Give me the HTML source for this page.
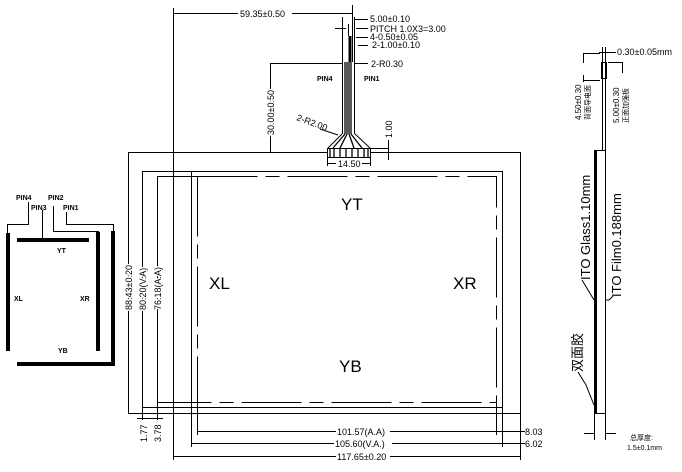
<!DOCTYPE html>
<html><head><meta charset="utf-8"><style>
html,body{margin:0;padding:0;background:#fff;}
svg{display:block;}
text{font-family:"Liberation Sans","Noto Sans CJK SC",sans-serif;fill:#000;}
.d{font-size:9px;}
.h{stroke:#fff;stroke-width:3px;paint-order:stroke;}
.b{font-size:7px;font-weight:bold;}
.L{font-size:17px;}
</style></head><body>
<svg width="682" height="472" viewBox="0 0 682 472" xmlns="http://www.w3.org/2000/svg">
<g stroke="#000" stroke-width="1" fill="none">
<!-- main panel -->
<rect x="128.5" y="152.5" width="392" height="261"/>
<rect x="191.5" y="171.5" width="311" height="236"/>
<rect x="197.5" y="176.5" width="299" height="226" stroke-dasharray="60,8,14,8"/>
<line x1="142.5" y1="171.5" x2="191" y2="171.5"/>
<line x1="157.5" y1="176.5" x2="197" y2="176.5"/>
<line x1="142.5" y1="407.5" x2="191" y2="407.5"/>
<line x1="157.5" y1="402.5" x2="197" y2="402.5"/>
<line x1="142.5" y1="171" x2="142.5" y2="420"/>
<line x1="157.5" y1="176" x2="157.5" y2="420"/>
<line x1="137" y1="418.5" x2="163" y2="418.5"/>
<!-- bottom dims -->
<line x1="173.5" y1="8" x2="173.5" y2="460"/>
<line x1="191.5" y1="407" x2="191.5" y2="447"/>
<line x1="197.5" y1="402" x2="197.5" y2="435"/>
<line x1="496.5" y1="402" x2="496.5" y2="435"/>
<line x1="502.5" y1="407" x2="502.5" y2="447"/>
<line x1="520.5" y1="413" x2="520.5" y2="460"/>
<line x1="197" y1="431.5" x2="336" y2="431.5"/><line x1="390" y1="431.5" x2="496" y2="431.5"/>
<line x1="191" y1="443.5" x2="334" y2="443.5"/><line x1="392" y1="443.5" x2="502" y2="443.5"/>
<line x1="173" y1="456.5" x2="336" y2="456.5"/><line x1="390" y1="456.5" x2="520" y2="456.5"/>
<line x1="496" y1="431.5" x2="525" y2="431.5"/>
<line x1="502" y1="443.5" x2="525" y2="443.5"/>
<!-- top dims -->
<line x1="173" y1="13.5" x2="238" y2="13.5"/><line x1="292" y1="13.5" x2="352" y2="13.5"/>
<line x1="352.5" y1="5" x2="352.5" y2="62"/>
<line x1="342.5" y1="17" x2="342.5" y2="62"/>
<line x1="354.5" y1="17" x2="354.5" y2="62"/>
<line x1="354" y1="19.5" x2="368" y2="19.5"/>
<line x1="335" y1="28.5" x2="346" y2="28.5"/><line x1="356" y1="28.5" x2="368" y2="28.5"/>
<line x1="348.5" y1="24" x2="348.5" y2="36"/>
<line x1="356" y1="37.5" x2="368" y2="37.5"/>
<line x1="358" y1="45.5" x2="368" y2="45.5"/>
<line x1="270.5" y1="63.5" x2="342" y2="63.5"/>
<line x1="270.5" y1="63" x2="270.5" y2="152"/>
<line x1="354" y1="63.5" x2="368" y2="63.5"/>
<line x1="370" y1="148.5" x2="388" y2="148.5"/>
<line x1="388.5" y1="140" x2="388.5" y2="160"/>
<line x1="327.5" y1="157" x2="327.5" y2="166"/><line x1="370.5" y1="157" x2="370.5" y2="166"/>
<line x1="327" y1="163.5" x2="336" y2="163.5"/><line x1="362" y1="163.5" x2="370" y2="163.5"/>
<line x1="320" y1="129" x2="338" y2="135"/>
<!-- cable -->
<line x1="342.5" y1="62" x2="342.5" y2="134"/>
<line x1="354.5" y1="62" x2="354.5" y2="134"/>
<line x1="342" y1="134" x2="328" y2="148"/>
<line x1="355" y1="134" x2="370" y2="148"/>
<rect x="327.5" y="148.5" width="43" height="9" fill="#fff"/>
</g>
<g stroke="#000" stroke-width="1.3">
<line x1="345" y1="62" x2="345" y2="134"/><line x1="347" y1="62" x2="347" y2="134"/>
<line x1="349" y1="62" x2="349" y2="134"/><line x1="351" y1="62" x2="351" y2="134"/>
<line x1="345" y1="134" x2="333" y2="148"/><line x1="347" y1="134" x2="340" y2="148"/>
<line x1="349" y1="134" x2="354" y2="148"/><line x1="351" y1="134" x2="362" y2="148"/>
<line x1="330" y1="149" x2="330" y2="157"/><line x1="334" y1="149" x2="334" y2="157"/>
<line x1="340" y1="149" x2="340" y2="157"/><line x1="346" y1="149" x2="346" y2="157"/>
<line x1="352" y1="149" x2="352" y2="157"/><line x1="358" y1="149" x2="358" y2="157"/>
<line x1="364" y1="149" x2="364" y2="157"/><line x1="368" y1="149" x2="368" y2="157"/>
</g>
<rect x="348.5" y="36" width="3" height="26" fill="#000"/>
<!-- texts main -->
<text class="d" x="240" y="17">59.35±0.50</text>
<text class="d" x="370" y="22">5.00±0.10</text>
<text class="d" x="370" y="32">PITCH 1.0X3=3.00</text>
<text class="d" x="370" y="40">4-0.50±0.05</text>
<text class="d" x="372" y="48">2-1.00±0.10</text>
<text class="d" x="371" y="67">2-R0.30</text>
<text class="b" x="317" y="81">PIN4</text>
<text class="b" x="364" y="81">PIN1</text>
<text class="d" transform="translate(296,120) rotate(20)">2-R2.00</text>
<text class="d h" transform="translate(274,135) rotate(-90)">30.00±0.50</text>
<text class="d h" transform="translate(392,138) rotate(-90)">1.00</text>
<text class="d" x="338" y="167">14.50</text>
<text class="L" x="341" y="210">YT</text>
<text class="L" x="209" y="289">XL</text>
<text class="L" x="453" y="289">XR</text>
<text class="L" x="339" y="372">YB</text>
<text class="d h" transform="translate(132,310) rotate(-90)">88.43±0.20</text>
<text class="d h" transform="translate(146,310) rotate(-90)">80.20(V.A)</text>
<text class="d h" transform="translate(161,310) rotate(-90)">76.18(A.A)</text>
<text class="d" transform="translate(147,442) rotate(-90)">1.77</text>
<text class="d" transform="translate(161,442) rotate(-90)">3.78</text>
<text class="d" x="337" y="435">101.57(A.A)</text>
<text class="d" x="335" y="447">105.60(V.A.)</text>
<text class="d" x="337" y="460">117.65±0.20</text>
<text class="d" x="525" y="435">8.03</text>
<text class="d" x="525" y="447">6.02</text>
<!-- left schematic -->
<g stroke="#000" stroke-width="1" fill="none">
<polyline points="28.5,202 28.5,224.5 7.5,224.5 7.5,233"/>
<line x1="42.5" y1="210" x2="42.5" y2="240"/>
<polyline points="53.5,206 53.5,231.5 98.5,231.5 98.5,234"/>
<polyline points="66.5,212 66.5,224.5 113.5,224.5 113.5,232"/>
</g>
<g fill="#000">
<rect x="6" y="233" width="4" height="118"/>
<rect x="17" y="238" width="72" height="4"/>
<rect x="96" y="232" width="4" height="119"/>
<rect x="111" y="231" width="4" height="135"/>
<rect x="17" y="362" width="98" height="4"/>
</g>
<text class="b" x="16" y="200">PIN4</text>
<text class="b" x="48" y="200">PIN2</text>
<text class="b" x="31" y="210">PIN3</text>
<text class="b" x="63" y="210">PIN1</text>
<text class="b" x="57" y="253">YT</text>
<text class="b" x="14" y="301">XL</text>
<text class="b" x="80" y="301">XR</text>
<text class="b" x="58" y="353">YB</text>
<!-- side view -->
<g stroke="#000" stroke-width="1" fill="none">
<line x1="602.5" y1="47" x2="602.5" y2="150"/>
<line x1="605.5" y1="47" x2="605.5" y2="150"/>
<rect x="601.5" y="62.5" width="5" height="16"/>
<line x1="599" y1="52.5" x2="616" y2="52.5"/>
<line x1="583" y1="53.5" x2="600" y2="53.5"/>
<line x1="583" y1="80.5" x2="600" y2="80.5"/>
<line x1="583.5" y1="53" x2="583.5" y2="63"/>
<line x1="583.5" y1="75" x2="583.5" y2="82"/>
<line x1="608" y1="62.5" x2="623" y2="62.5"/>
<line x1="622.5" y1="62" x2="622.5" y2="73"/>
<rect x="594.5" y="150.5" width="11" height="263"/>
<line x1="594.5" y1="413" x2="594.5" y2="440"/>
<line x1="605.5" y1="413" x2="605.5" y2="440"/>
<line x1="584" y1="433.5" x2="594" y2="433.5"/>
<line x1="606" y1="433.5" x2="616" y2="433.5"/>
<polyline points="582,280 588,290 594,300"/>
<polyline points="613,296 609,300 606,300"/>
<polyline points="578,372 586,385 594,405"/>
</g>
<rect x="594" y="150" width="3" height="264" fill="#000"/>
<text class="d" x="617" y="55">0.30±0.05mm</text>
<text style="font-size:8px" transform="translate(581,120) rotate(-90)">4.50±0.30</text>
<text style="font-size:7px" transform="translate(590,120) rotate(-90)">背面导电面</text>
<text style="font-size:8px" transform="translate(619,123) rotate(-90)">5.00±0.30</text>
<text style="font-size:7px" transform="translate(628,123) rotate(-90)">正面加强板</text>
<text style="font-size:13px" transform="translate(590,280) rotate(-90)">ITO Glass1.10mm</text>
<text style="font-size:13px" transform="translate(621,297) rotate(-90)">ITO Film0.188mm</text>
<text style="font-size:13px" transform="translate(582,372) rotate(-90)">双面胶</text>
<text style="font-size:7px" x="630" y="440">总厚度:</text>
<text style="font-size:7px" x="627" y="450">1.5±0.1mm</text>
</svg>
</body></html>
